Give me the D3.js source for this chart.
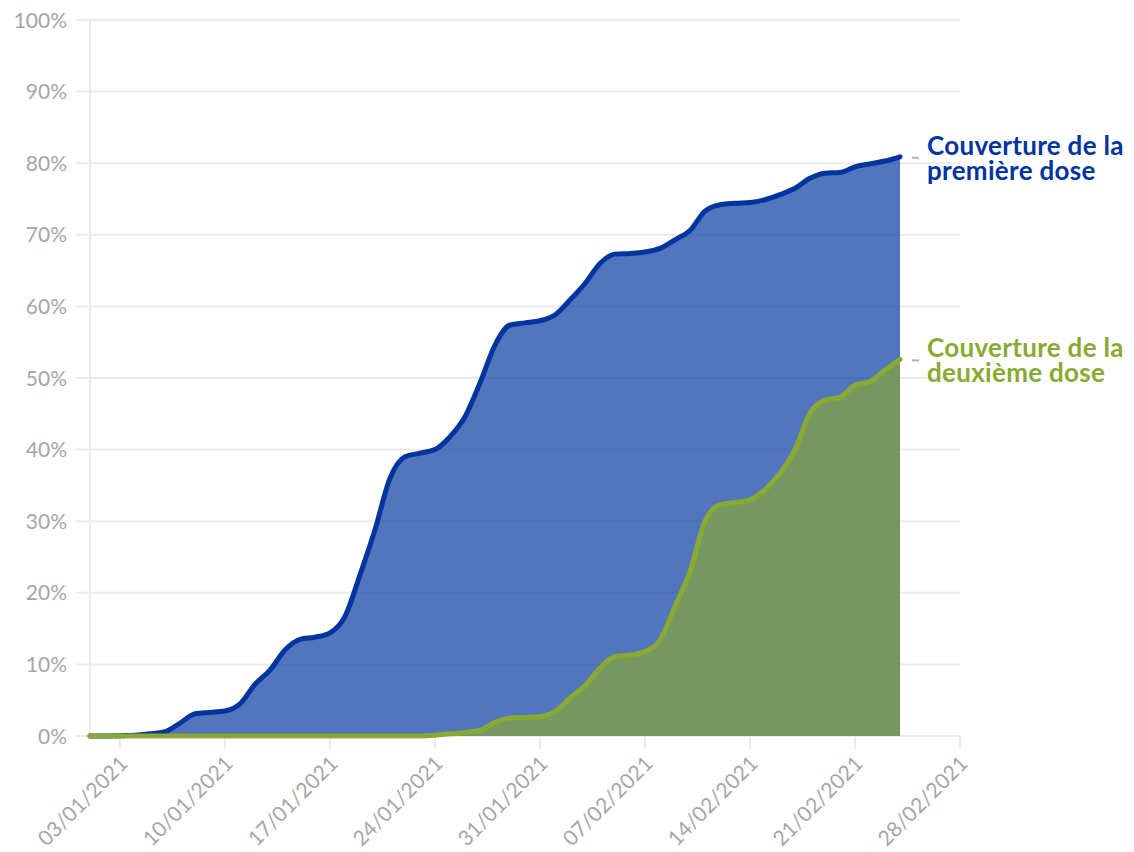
<!DOCTYPE html>
<html>
<head>
<meta charset="utf-8">
<script src="https://cdn.jsdelivr.net/npm/d3@7"></script>
<style>
  body { margin: 0; background: #fff; }
  svg { font-family: Lato, "Open Sans", sans-serif; }
</style>
</head>
<body>
<div id="content"></div>
<script>
// daily coverage, 01/01/2021 -> 24/02/2021 (%)
const startDay = '2021-01-01';
const premiereDose = [
  0, 0, 0.05, 0.1, 0.3, 0.6, 1.8, 3.1, 3.3, 3.5,
  4.5, 7.2, 9.2, 12, 13.5, 13.8, 14.4, 16.7, 22.5, 28.8,
  36, 39, 39.5, 40, 41.8, 44.6, 49.3, 54.6, 57.4, 57.7,
  58, 58.8, 60.9, 63.2, 66, 67.3, 67.4, 67.6, 68.1, 69.3,
  70.6, 73.3, 74.2, 74.4, 74.5, 74.9, 75.6, 76.5, 77.9, 78.6,
  78.7, 79.5, 79.9, 80.3, 80.9
];
const deuxiemeDose = [
  0, 0, 0, 0, 0, 0, 0, 0, 0, 0,
  0, 0, 0, 0, 0, 0, 0, 0, 0, 0,
  0, 0, 0, 0.1, 0.3, 0.5, 0.8, 1.9, 2.5, 2.6,
  2.7, 3.4, 5.3, 7.0, 9.5, 11.1, 11.3, 11.8, 13.4, 18.1,
  23, 30, 32.3, 32.6, 33, 34.4, 36.7, 40, 45.1, 46.9,
  47.3, 49, 49.5, 51.1, 52.6
];
const tickLabels = ['03/01/2021', '10/01/2021', '17/01/2021', '24/01/2021', '31/01/2021',
                    '07/02/2021', '14/02/2021', '21/02/2021', '28/02/2021'];
const yTicks = [0, 10, 20, 30, 40, 50, 60, 70, 80, 90, 100];
const seriesLabels = [['Couverture de la', 'première dose'], ['Couverture de la', 'deuxième dose']];

const parse = d3.timeParse('%Y-%m-%d');
const parseTick = d3.timeParse('%d/%m/%Y');
const day0 = parse(startDay);
const days = premiereDose.map((v, i) => d3.timeDay.offset(day0, i));

// Height and width
let margin = {top: 20, right: 174, bottom: 116, left: 90};
let width = 1134 - margin.left - margin.right;
let height = 852 - margin.top - margin.bottom;

let svg = d3.select('#content')
            .append('svg')
            .attr('width', 1134)
            .attr('height', 852);

let g = svg.append('g')
           .attr('transform', 'translate(' + margin.left + ',' + margin.top + ')');

let x = d3.scaleTime()
          .domain([day0, parseTick('28/02/2021')])
          .range([0, width]);

let y = d3.scaleLinear()
          .domain([0, 100])
          .range([height, 0]);

const grey = '#ebebeb';
const labelGrey = '#a6a6a6';

// grid
g.selectAll('.grid')
 .data(yTicks)
 .enter()
 .append('line')
 .attr('x1', -14)
 .attr('x2', width)
 .attr('y1', (d) => y(d))
 .attr('y2', (d) => y(d))
 .attr('stroke', grey)
 .attr('stroke-width', 2);

g.append('line')
 .attr('x1', 0).attr('x2', 0)
 .attr('y1', 0).attr('y2', height)
 .attr('stroke', grey)
 .attr('stroke-width', 2);

g.selectAll('.ylab')
 .data(yTicks)
 .enter()
 .append('text')
 .attr('x', -23)
 .attr('y', (d) => y(d))
 .attr('dy', '0.36em')
 .attr('text-anchor', 'end')
 .attr('fill', labelGrey)
 .style('font-size', '21px')
 .text((d) => d + '%');

// x ticks
const tickDates = tickLabels.map(parseTick);
g.selectAll('.xtick')
 .data(tickDates)
 .enter()
 .append('line')
 .attr('x1', (d) => x(d))
 .attr('x2', (d) => x(d))
 .attr('y1', height)
 .attr('y2', height + 13)
 .attr('stroke', grey)
 .attr('stroke-width', 2);

g.selectAll('.xlab')
 .data(tickDates)
 .enter()
 .append('text')
 .attr('transform', (d) => 'translate(' + (x(d) + 9) + ',' + (height + 29) + ') rotate(-45)')
 .attr('text-anchor', 'end')
 .attr('fill', labelGrey)
 .style('font-size', '21px')
 .text((d, i) => tickLabels[i]);

// areas
const series = [
  {values: premiereDose, line: '#00349f', width: 5},
  {values: deuxiemeDose, line: '#88aa33', width: 5}
];

let area = d3.area()
             .x((d, i) => x(days[i]))
             .y0(height)
             .y1((d) => y(d))
             .curve(d3.curveMonotoneX);

let line = d3.line()
             .x((d, i) => x(days[i]))
             .y((d) => y(d))
             .curve(d3.curveMonotoneX);

series.forEach((s) => {
  g.append('path')
   .attr('d', area(s.values))
   .attr('fill', s.line)
   .attr('fill-opacity', 0.68);
});

series.forEach((s) => {
  g.append('path')
   .attr('d', line(s.values))
   .attr('fill', 'none')
   .attr('stroke', s.line)
   .attr('stroke-width', s.width)
   .attr('stroke-linejoin', 'round')
   .attr('stroke-linecap', 'round');
});

// end labels
series.forEach((s, k) => {
  let last = s.values.length - 1;
  let ye = y(s.values[last]);
  let xe = x(days[last]);
  g.append('line')
   .attr('x1', xe + 12).attr('x2', xe + 19)
   .attr('y1', ye + 1).attr('y2', ye + 1)
   .attr('stroke', '#b0b0b0')
   .attr('stroke-width', 2);
  seriesLabels[k].forEach((l, j) => {
    g.append('text')
     .attr('x', xe + 27)
     .attr('y', ye - 2 + j * 25)
     .attr('fill', s.line)
     .style('font-size', '26px')
     .style('font-weight', 'bold')
     .style('letter-spacing', '0.3px')
     .text(l);
  });
});
</script>
</body>
</html>
